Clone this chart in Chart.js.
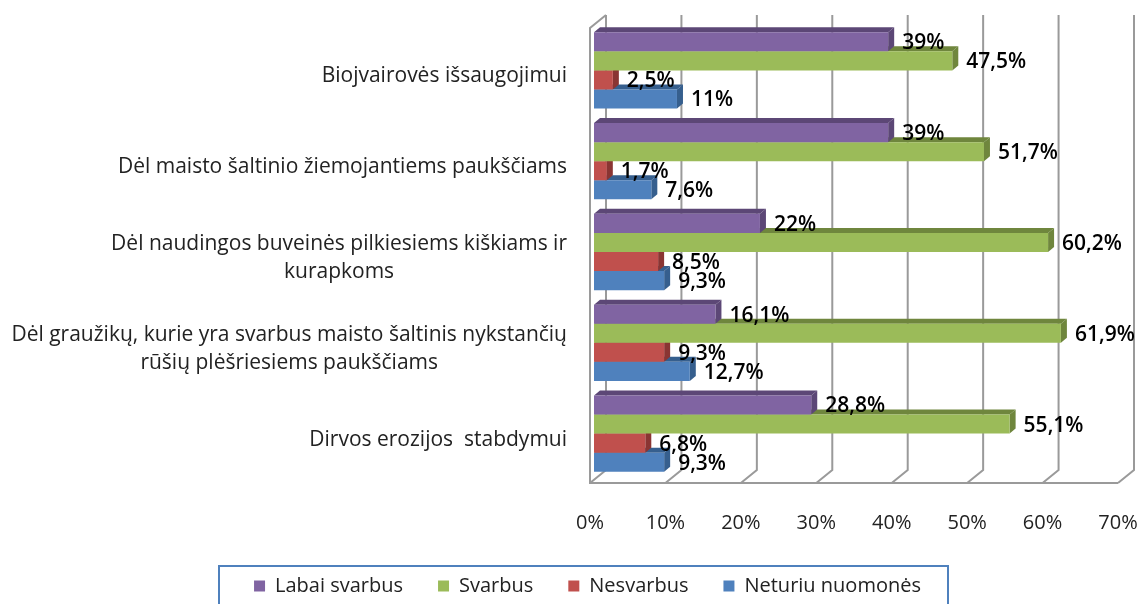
<!DOCTYPE html>
<html>
<head>
<meta charset="utf-8">
<style>
  body { margin: 0; background: #fff; }
  canvas { display: block; filter: blur(0.4px); }
</style>
<script src="https://cdn.jsdelivr.net/npm/chart.js@4"></script>
</head>
<body>
<canvas id="chart" width="1137" height="604"></canvas>
<script>
const categories = [
  ["Biojvairovės išsaugojimui"],
  ["Dėl maisto šaltinio žiemojantiems paukščiams"],
  ["Dėl naudingos buveinės pilkiesiems kiškiams ir", "kurapkoms"],
  ["Dėl graužikų, kurie yra svarbus maisto šaltinis nykstančių", "rūšių plėšriesiems paukščiams"],
  ["Dirvos erozijos  stabdymui"]
];
const labaiSvarbus = [39, 39, 22, 16.1, 28.8];
const svarbus = [47.5, 51.7, 60.2, 61.9, 55.1];
const nesvarbus = [2.5, 1.7, 8.5, 9.3, 6.8];
const neturiuNuomones = [11, 7.6, 9.3, 12.7, 9.3];

const color = {
  purple: "#8064A2", purpleDark: "#5C4776",
  green: "#9BBB59", greenDark: "#6F863D",
  red: "#C0504D", redDark: "#8A3533",
  blue: "#4F81BD", blueDark: "#365F8E",
  grid: "#9A9A9A"
};
const fontName = "'Open Sans', sans-serif";
const depthX = 6, depthY = 5;

function makeDataset(inputlabel, inputdata, front, dark) {
  return {
    label: inputlabel,
    data: inputdata,
    backgroundColor: front,
    darkColor: dark,
    categoryPercentage: 0.84,
    barPercentage: 1
  };
}

function fillShape(ctx, points, fill) {
  ctx.fillStyle = fill;
  ctx.beginPath();
  points.forEach((p, i) => i ? ctx.lineTo(p[0], p[1]) : ctx.moveTo(p[0], p[1]));
  ctx.closePath();
  ctx.fill();
}

// back wall, floor and gridlines of the fake 3d box
const wallPlugin = {
  id: "wall",
  beforeDatasetsDraw(chart) {
    const ctx = chart.ctx, area = chart.chartArea, x = chart.scales.x;
    const top = area.top - 10, backBottom = area.bottom - 9, front = area.bottom + 4;
    ctx.save();
    ctx.strokeStyle = color.grid;
    ctx.lineWidth = 2;
    x.ticks.forEach(t => {
      const px = x.getPixelForValue(t.value);
      ctx.beginPath();
      ctx.moveTo(px + 12, top);
      ctx.lineTo(px + 12, backBottom);
      ctx.lineTo(px - 4, front);
      ctx.stroke();
    });
    const x0 = x.getPixelForValue(0), xMax = x.getPixelForValue(70);
    ctx.beginPath();
    ctx.moveTo(x0 + 12, top);
    ctx.lineTo(x0 - 4, top + 13);
    ctx.lineTo(x0 - 4, front);
    ctx.lineTo(xMax - 4, front);
    ctx.stroke();
    ctx.restore();
  }
};

// top and side faces of the bars, bottom series first so upper bars overlap
const facesPlugin = {
  id: "faces",
  beforeDatasetsDraw(chart) {
    const ctx = chart.ctx;
    for (let d = chart.data.datasets.length - 1; d >= 0; d--) {
      const dark = chart.data.datasets[d].darkColor;
      const bars = chart.getDatasetMeta(d).data;
      for (let i = bars.length - 1; i >= 0; i--) {
        const b = bars[i], t = b.y - b.height / 2, u = b.y + b.height / 2;
        fillShape(ctx, [[b.base, t], [b.base + depthX, t - depthY], [b.x + depthX, t - depthY], [b.x, t]], dark);
        fillShape(ctx, [[b.x, t], [b.x + depthX, t - depthY], [b.x + depthX, u - depthY], [b.x, u]], dark);
      }
    }
  }
};

// percent labels next to the bars, and category names
const textPlugin = {
  id: "texts",
  afterDatasetsDraw(chart) {
    const ctx = chart.ctx, y = chart.scales.y;
    ctx.save();
    ctx.fillStyle = "#000";
    ctx.textBaseline = "middle";
    ctx.textAlign = "left";
    ctx.font = "600 21px " + fontName;
    chart.data.datasets.forEach((ds, d) => {
      chart.getDatasetMeta(d).data.forEach((b, i) => {
        ctx.fillText(String(ds.data[i]).replace(".", ",") + "%", b.x + 14, b.y + 1.5);
      });
    });
    ctx.font = "21px " + fontName;
    ctx.fillStyle = "#222";
    categories.forEach((lines, i) => {
      const cy = y.getPixelForValue(i) + 6;
      const blockW = Math.max(...lines.map(l => ctx.measureText(l).width));
      lines.forEach((line, n) => {
        const ly = cy + (n - (lines.length - 1) / 2) * 28;
        ctx.textAlign = "center";
        ctx.fillText(line, 567 - blockW / 2, ly);
      });
    });
    ctx.restore();
  }
};

// legend sits in a framed box cut off by the page bottom
const legendPlugin = {
  id: "legendBox",
  afterLayout(chart) {
    const l = chart.legend;
    l.left = 175; l.right = 1000; l.width = 825;
    l.top = 586 - 10 - 35;
  },
  beforeDraw(chart) {
    const ctx = chart.ctx;
    ctx.save();
    ctx.strokeStyle = color.blue;
    ctx.lineWidth = 2;
    ctx.strokeRect(219, 566, 729, 60);
    ctx.restore();
  }
};

const chart = new Chart(document.getElementById("chart"), {
  type: "bar",
  data: {
    labels: categories,
    datasets: [
      makeDataset("Labai svarbus", labaiSvarbus, color.purple, color.purpleDark),
      makeDataset("Svarbus", svarbus, color.green, color.greenDark),
      makeDataset("Nesvarbus", nesvarbus, color.red, color.redDark),
      makeDataset("Neturiu nuomonės", neturiuNuomones, color.blue, color.blueDark)
    ]
  },
  options: {
    indexAxis: "y",
    responsive: false,
    animation: false,
    layout: { padding: { top: 25, right: 15 } },
    plugins: {
      tooltip: { enabled: false },
      legend: {
        position: "bottom",
        labels: {
          boxWidth: 11, boxHeight: 11, padding: 35,
          color: "#222",
          font: { family: fontName, size: 20 }
        }
      }
    },
    scales: {
      x: {
        min: 0,
        max: 70,
        grid: { display: false },
        border: { display: false },
        ticks: {
          stepSize: 10,
          padding: 24,
          labelOffset: -4,
          maxRotation: 0,
          color: "#222",
          font: { family: fontName, size: 20 },
          callback: v => v + "%"
        },
        afterFit(s) {
          s.height = 604 - 479 - s.chart.legend.height;
          s.paddingLeft = 0;
          s.paddingRight = 0;
        }
      },
      y: {
        grid: { display: false },
        border: { display: false },
        ticks: { display: false },
        afterFit(s) {
          s.width = 594;
          s.paddingTop = 0;
          s.paddingBottom = 0;
        }
      }
    }
  },
  plugins: [wallPlugin, facesPlugin, textPlugin, legendPlugin]
});
</script>
</body>
</html>
